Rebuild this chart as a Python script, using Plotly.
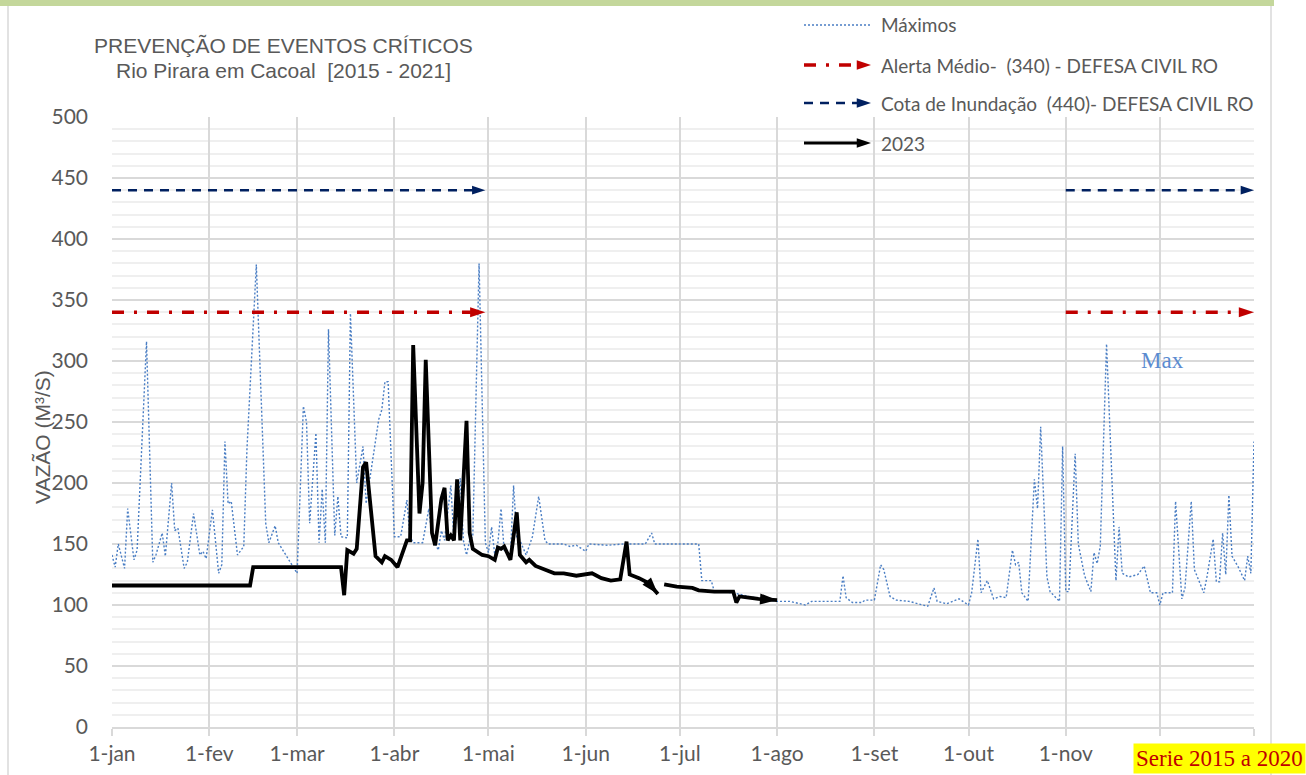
import pandas as pd
import plotly.graph_objects as go

# ---------------- data ----------------
YEAR_START = pd.Timestamp("2023-01-01")

# "Máximos" series (day of year, 0 = 1-jan) and discharge values (m3/s)
max_day = [0, 1, 2, 4, 5, 7, 8, 11, 13, 14, 16, 17, 19, 20, 21, 23, 24, 26, 28, 29, 30,
           32, 34, 35, 36, 37, 38, 40, 42, 43, 46, 49, 50, 52, 53, 55, 57, 59, 61, 62, 63,
           65, 66, 67, 68, 69, 71, 72, 73, 75, 76, 78, 80, 81, 85, 86, 87, 88, 90, 92, 94,
           95, 96, 99, 101, 102, 104, 105, 106, 108, 109, 111, 112, 113, 114, 115, 117, 118,
           119, 120, 121, 122, 123, 124, 125, 127, 128, 129, 130, 132, 134, 136, 138, 139,
           144, 146, 148, 151, 152, 158, 163, 170, 172, 173, 187, 188, 191, 192, 198, 203,
           212, 216, 221, 223, 232, 233, 234, 236, 239, 240, 243, 245, 246, 248, 250, 254,
           260, 262, 263, 266, 270, 273, 274, 276, 277, 279, 281, 283, 285, 287, 288, 289,
           290, 292, 294, 295, 296, 298, 299, 302, 303, 304, 305, 307, 308, 310, 312, 313,
           314, 315, 317, 320, 321, 322, 324, 327, 329, 331, 333, 334, 335, 338, 339, 341,
           342, 344, 345, 348, 349, 351, 352, 353, 354, 355, 356, 357, 359, 361, 362, 363, 364]
max_val = [141, 131, 150, 130, 179, 137, 145, 316, 135, 141, 159, 140, 200, 161, 163, 130, 135, 175, 141, 144, 138,
           178, 126, 133, 234, 183, 185, 141, 148, 227, 379, 167, 151, 165, 151, 143, 135, 126, 263, 250, 167,
           241, 151, 195, 151, 326, 157, 189, 156, 155, 339, 200, 230, 183, 252, 260, 283, 283, 156, 156, 186,
           156, 151, 151, 179, 156, 145, 161, 153, 198, 153, 204, 153, 141, 153, 156, 380, 254,
           151, 143, 164, 141, 151, 179, 145, 141, 198, 156, 153, 141, 156, 189, 153, 150,
           150, 148, 149, 144, 150, 149, 150, 150, 159, 150, 150, 120, 120, 111, 110, 107,
           103, 103, 100, 103, 103, 124, 106, 102, 102, 104, 104, 133, 129, 107, 104, 103,
           99, 114, 103, 101, 105, 100, 110, 154, 110, 120, 105, 107, 106, 145, 133, 135,
           110, 103, 203, 179, 246, 123, 111, 103, 230, 111, 111, 224, 150, 124, 111, 143,
           134, 148, 314, 120, 164, 126, 123, 125, 132, 110, 110, 100, 110, 110, 185, 105,
           114, 185, 129, 110, 123, 154, 119, 119, 159, 125, 190, 140, 131, 120, 140, 126, 234]

# 2023 observed series, two segments
obs_a_day = [0, 44, 45, 73, 74, 75, 77, 78, 80, 81, 84, 86, 87, 89, 91, 93, 94, 95, 96, 98, 99,
             100, 102, 103, 105, 106, 107, 108, 109, 110, 111, 113, 114, 115, 118, 120, 122,
             123, 124, 125, 127, 129, 130, 132, 133, 135, 138, 141, 144, 148, 153, 156, 159,
             162, 164, 165, 168, 171, 174]
obs_a_val = [116, 116, 131, 131, 108, 145, 142, 146, 213, 217, 140, 135, 140, 137, 131, 145, 153, 153, 313, 175, 200,
             301, 159, 149, 187, 196, 153, 157, 153, 203, 153, 251, 159, 146, 141, 140, 137,
             147, 146, 148, 137, 176, 141, 135, 137, 132, 129, 126, 126, 124, 126, 122, 120,
             121, 152, 125, 122, 118, 109]
obs_b_day = [176, 180, 185, 187, 192, 198, 199, 200, 203, 206, 212]
obs_b_val = [117, 115, 114, 112, 111, 111, 102, 107, 106, 105, 104]

alert_level = 340      # Alerta Médio - Defesa Civil RO
flood_level = 440      # Cota de Inundação - Defesa Civil RO
threshold_day_spans = [(0, 119), (304, 364)]

# month tick labels (the 1-dez label is hidden under the "Serie" box)
month_labels = ["1-jan", "1-fev", "1-mar", "1-abr", "1-mai", "1-jun",
                "1-jul", "1-ago", "1-set", "1-out", "1-nov", "", ""]


def to_dates(days):
    return [YEAR_START + pd.Timedelta(days=int(d)) for d in days]


# ---------------- styling ----------------
W, H = 1306, 775
PL, PR, PT, PB = 112, 1254, 117, 727   # plot area in pixels
GREY_TXT = "#595959"
BLUE = "#4A7EC4"
RED = "#C00000"
NAVY = "#002060"
CAL = "Lato, 'Open Sans', sans-serif"
ARIAL = "'Liberation Sans', Arial, sans-serif"
SERIF = "'Liberation Serif', 'Times New Roman', serif"
RED_DASH = "12px,10px,3px,10px"
NAVY_DASH = "9px,7px"
BLACK_W = 3.8


def px(x):
    return x / W


def py(y):
    return 1 - y / H


fig = go.Figure()

# Máximos
fig.add_trace(go.Scatter(
    x=to_dates(max_day), y=max_val, mode="lines",
    line=dict(color=BLUE, width=1.4, dash="2px,2px"),
    showlegend=False, hoverinfo="skip"))


def arrow_line(days, vals, color, width, dash, size, xa="x", ya="y", dates=True):
    n = len(days)
    fig.add_trace(go.Scatter(
        x=to_dates(days) if dates else days, y=vals, mode="lines+markers",
        xaxis=xa, yaxis=ya,
        line=dict(color=color, width=width, dash=dash),
        marker=dict(symbol="arrow", angleref="previous", color=color,
                    size=[0] * (n - 1) + [size], opacity=[0] * (n - 1) + [1],
                    line=dict(width=0)),
        showlegend=False, hoverinfo="skip", cliponaxis=False))


for d0, d1 in threshold_day_spans:
    arrow_line([d0, d1], [alert_level, alert_level], RED, 3.5, RED_DASH, 16)
    arrow_line([d0, d1], [flood_level, flood_level], NAVY, 2.5, NAVY_DASH, 14)

arrow_line(obs_a_day, obs_a_val, "black", BLACK_W, "solid", 18)
arrow_line(obs_b_day, obs_b_val, "black", BLACK_W, "solid", 18)

# ---------------- manual legend (pixel axes covering the figure) ----------------
LX0, LX1 = 804, 871
legend_items = [
    ("Máximos", 25, BLUE, 1.4, "2px,2px", False),
    ("Alerta Médio-  (340) - DEFESA CIVIL RO", 65, RED, 3.5, RED_DASH, True),
    ("Cota de Inundação  (440)- DEFESA CIVIL RO", 103, NAVY, 2.5, NAVY_DASH, True),
    ("2023", 143, "black", 3.2, "solid", True),
]
annotations = []
for label, yy, col, wd, ds, arr in legend_items:
    if arr:
        arrow_line([LX0, LX1], [yy, yy], col, wd, ds, 15, xa="x2", ya="y2", dates=False)
    else:
        fig.add_trace(go.Scatter(x=[LX0, LX1], y=[yy, yy], mode="lines", xaxis="x2", yaxis="y2",
                                 line=dict(color=col, width=wd, dash=ds),
                                 showlegend=False, hoverinfo="skip"))
    annotations.append(dict(x=px(879), y=py(yy), xref="paper", yref="paper", text=label,
                            showarrow=False, xanchor="left", yanchor="middle",
                            font=dict(family=CAL, size=19, color=GREY_TXT)))

# title
annotations.append(dict(x=px(283), y=py(45), xref="paper", yref="paper",
                        text="PREVENÇÃO DE EVENTOS CRÍTICOS", showarrow=False,
                        xanchor="center", yanchor="middle",
                        font=dict(family=ARIAL, size=21, color=GREY_TXT)))
annotations.append(dict(x=px(283), y=py(70), xref="paper", yref="paper",
                        text="Rio Pirara em Cacoal  [2015 - 2021]", showarrow=False,
                        xanchor="center", yanchor="middle",
                        font=dict(family=ARIAL, size=21, color=GREY_TXT)))
# y title
annotations.append(dict(x=px(42), y=py(437), xref="paper", yref="paper",
                        text="VAZÃO (M³/S)", showarrow=False, textangle=-90,
                        xanchor="center", yanchor="middle",
                        font=dict(family=ARIAL, size=21, color=GREY_TXT)))
# Max label
annotations.append(dict(x=px(1162), y=py(360), xref="paper", yref="paper",
                        text="Max", showarrow=False, xanchor="center", yanchor="middle",
                        font=dict(family=SERIF, size=23, color="#5B8BD0")))
# Serie box
annotations.append(dict(x=px(1306), y=py(758), xref="paper", yref="paper",
                        text="Serie 2015 a 2020", showarrow=False, xanchor="right",
                        yanchor="middle", bgcolor="#FFFF00", borderpad=2,
                        font=dict(family=SERIF, size=23, color=RED)))

shapes = [
    dict(type="rect", xref="paper", yref="paper", x0=0, x1=px(1274), y0=py(6), y1=1,
         fillcolor="#C4D79B", line=dict(width=0), layer="below"),
    dict(type="line", xref="paper", yref="paper", x0=px(8), x1=px(8), y0=0, y1=py(6),
         line=dict(color="#D9D9D9", width=1.5), layer="below"),
    dict(type="line", xref="paper", yref="paper", x0=px(1271), x1=px(1271), y0=0, y1=py(6),
         line=dict(color="#D9D9D9", width=1.5), layer="below"),
]

tickvals = [pd.Timestamp(2023, m, 1) for m in range(1, 13)] + [pd.Timestamp("2023-12-31")]

fig.update_layout(
    width=W, height=H, template="none",
    margin=dict(l=0, r=0, t=0, b=0, pad=0),
    paper_bgcolor="white", plot_bgcolor="rgba(0,0,0,0)",
    showlegend=False,
    annotations=annotations, shapes=shapes,
    xaxis=dict(domain=[px(PL), px(PR)], range=[pd.Timestamp("2023-01-01"), pd.Timestamp("2023-12-31")],
               type="date", tickvals=tickvals, ticktext=month_labels,
               showgrid=True, gridcolor="#D9D9D9", gridwidth=1.5,
               showline=True, linecolor="#D9D9D9", linewidth=1.5,
               ticks="outside", ticklen=7, tickcolor="#D9D9D9", tickwidth=1.5,
               ticklabelstandoff=0, zeroline=False, automargin=False,
               tickfont=dict(family=CAL, size=21, color=GREY_TXT), fixedrange=True),
    yaxis=dict(domain=[py(PB), py(PT)], range=[0, 500], dtick=50, tick0=0,
               showgrid=True, gridcolor="#D9D9D9", gridwidth=1.5,
               minor=dict(dtick=10, showgrid=True, gridcolor="#EFEFEF", gridwidth=1.5),
               zeroline=False, showline=False, ticks="", ticklabelstandoff=23,
               automargin=False, tickfont=dict(family=CAL, size=21, color=GREY_TXT),
               fixedrange=True),
    xaxis2=dict(domain=[0, 1], range=[0, W], visible=False, anchor="y2", fixedrange=True),
    yaxis2=dict(domain=[0, 1], range=[H, 0], visible=False, anchor="x2", fixedrange=True),
)

fig.write_html("out.html", config={"displayModeBar": False},
               post_script="document.body.style.margin='0px';")
